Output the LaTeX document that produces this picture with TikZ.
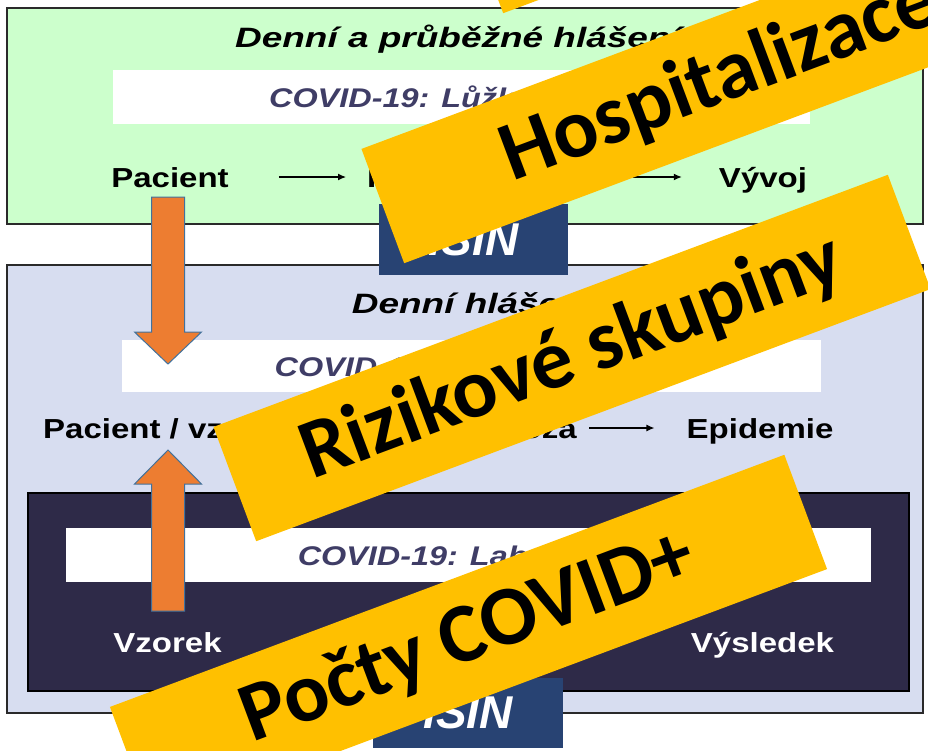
\documentclass[tikz,border=0pt]{standalone}
\usepackage{fontspec}
\setsansfont{Liberation Sans}
\newfontfamily\diafont[FakeStretch=1.2]{Liberation Sans}
\newfontfamily\titlefont[FakeStretch=1.32]{Liberation Sans}
\newfontfamily\bannerfont{Carlito}
\usetikzlibrary{arrows.meta}

\definecolor{greenbg}{HTML}{CCFFCC}
\definecolor{bluebg}{HTML}{D7DDF0}
\definecolor{darkbg}{HTML}{2E2A48}
\definecolor{boxline}{HTML}{2A2A2A}
\definecolor{isinblue}{HTML}{284373}
\definecolor{covidtext}{HTML}{3F3D66}
\definecolor{arroworange}{HTML}{ED7D31}
\definecolor{arrowline}{HTML}{41719C}
\definecolor{banneryellow}{HTML}{FFC000}

\tikzset{
  box/.style={draw=boxline,line width=2.5pt,inner sep=0pt},
  bar/.style={fill=white,inner sep=0pt,text height=20pt,text depth=0pt,text=covidtext,
    font=\diafont\bfseries\itshape\fontsize{27}{27}\selectfont},
  title/.style={anchor=base,inner sep=0pt,font=\titlefont\bfseries\itshape\fontsize{28}{28}\selectfont},
  word/.style={anchor=base,inner sep=0pt,text height=20pt,text depth=0pt,
    font=\diafont\bfseries\fontsize{27.5}{27.5}\selectfont},
  isin/.style={fill=isinblue,inner sep=0pt,text=white,font=\sffamily\bfseries\itshape\fontsize{46}{46}\selectfont},
  rowarrow/.style={-{Latex[length=8pt,width=7pt]},line width=1.2pt},
  fatarrow/.style={fill=arroworange,draw=arrowline,line width=1pt,line join=miter},
  banner/.style={fill=banneryellow,rotate=20.5,minimum width=720pt,minimum height=122pt,inner sep=0pt,
    font=\bannerfont\bfseries\fontsize{84}{84}\selectfont}
}

\begin{document}
\begin{tikzpicture}[x=1pt,y=-1pt]
\useasboundingbox (0,0) rectangle (928,750);
\clip (0,0) rectangle (928,750);

% boxes
\node[box,fill=greenbg,minimum width=916pt,minimum height=216pt] (lozka) at (465,116) {};
\node[box,fill=bluebg,minimum width=916pt,minimum height=448pt] (denni) at (465,489) {};
\node[box,fill=darkbg,draw=black,line width=1.5pt,minimum width=881pt,minimum height=198pt] (lab) at (468.5,592) {};

\node[bar,minimum width=697pt,minimum height=54pt] (bar1) at (461.5,97) {COVID-19: Lůžková péče};
\node[bar,minimum width=699pt,minimum height=52pt] (bar2) at (471.5,366) {COVID-19: Epidemiologie};
\node[bar,minimum width=805pt,minimum height=54pt] (bar3) at (468.5,555) {COVID-19: Laboratoře};

\node[title] (t1) at (458,47) {Denní a průběžné hlášení};
\node[title] (t2) at (472,313) {Denní hlášení};

% rows
\node[word] (pac1) at (170,187) {Pacient};
\node[word,anchor=base west] (hosp) at (367,187) {Hospitalizace};
\node[word] (vyvoj) at (763,187) {Vývoj};

\node[word,anchor=base west] (pac2) at (43,438) {Pacient / vzorek};
\node[word,anchor=base east] (diag) at (577,438) {Diagnóza};
\node[word] (epid) at (760,438) {Epidemie};

\node[word,white] (vzorek) at (167.5,652) {Vzorek};
\node[word,white] (vysl) at (762.5,652) {Výsledek};

\node[isin,minimum width=189pt,minimum height=71pt] (isin1) at (473.5,239.5) {ISIN};
\node[isin,minimum width=190pt,minimum height=70pt] (isin2) at (468,713) {ISIN};

\path
(pac1) edge[rowarrow,shorten <=50pt,shorten >=21pt] (hosp)
(hosp) edge[rowarrow,shorten <=50pt,shorten >=37pt] (vyvoj)
(pac2) edge[rowarrow,shorten <=15pt,shorten >=40pt] (diag)
(diag) edge[rowarrow,shorten <=12pt,shorten >=32pt] (epid);

% orange arrows
\coordinate (downstart) at (168,197);
\coordinate (downend) at (168,364);
\coordinate (upstart) at (168,611);
\coordinate (upend) at (168,450);
\draw[fatarrow] (downstart) ++(-16.5,0) -- ++(0,135) -- ++(-17,0) -- (downend)
  -- ++(33.5,-32) -- ++(-17,0) -- ++(0,-135) -- cycle;
\draw[fatarrow] (upstart) ++(-16.5,0) -- ++(0,-127) -- ++(-17,0) -- (upend)
  -- ++(33.5,34) -- ++(-17,0) -- ++(0,127) -- cycle;

% banners
\node[banner] (b0) at (819,-170) {};
\node[banner] (b1) at (720,80) {Hospitalizace};
\node[banner] (b2) at (572,358) {Rizikové skupiny};
\node[banner] (b3) at (468.5,638) {Počty COVID+};
\end{tikzpicture}
\end{document}
